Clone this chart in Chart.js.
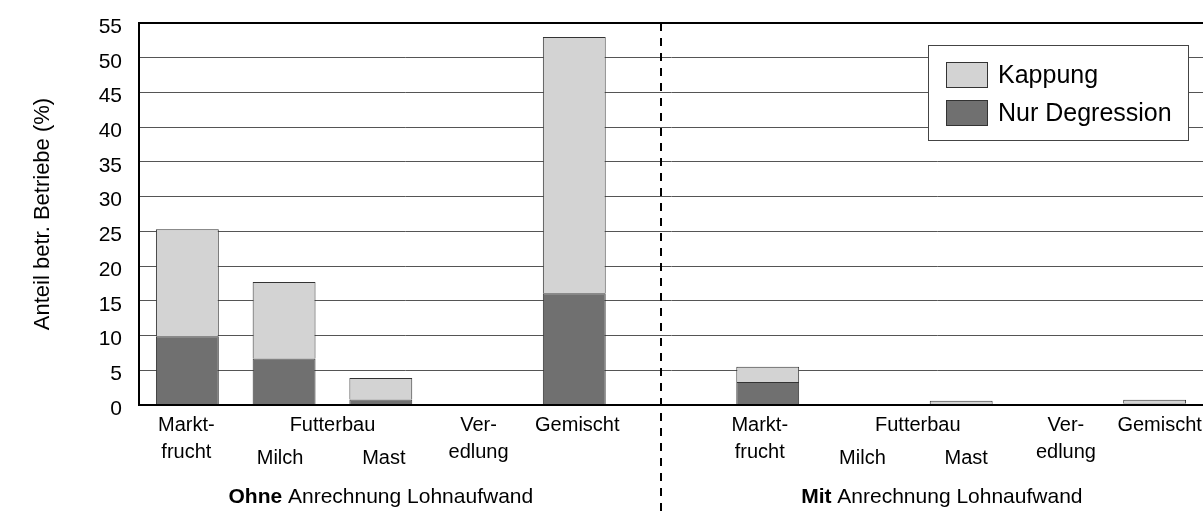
<!DOCTYPE html>
<html><head><meta charset="utf-8">
<script src="https://cdn.jsdelivr.net/npm/chart.js@4"></script>
<style>html,body{margin:0;padding:0;background:#fff;overflow:hidden}#wrap{width:1203px;height:514px;position:relative}</style>
</head><body><div id="wrap"><canvas id="c"></canvas></div>
<script>
// ---- data ----
const categories = ['Marktfrucht','Milch','Mast','Veredlung','Gemischt','','Marktfrucht','Milch','Mast','Veredlung','Gemischt'];
const nurDegression = [9.9, 6.7, 0.8, 0, 16.1, null, 3.3, 0, 0.1, 0, 0.2];
const kappung       = [15.4, 11.0, 3.1, 0, 36.9, null, 2.2, 0, 0.5, 0, 0.55];
const seriesNames = ['Nur Degression', 'Kappung'];
const labelsLine1 = ['Markt-', null, null, 'Ver-', 'Gemischt', null, 'Markt-', null, null, 'Ver-', 'Gemischt'];
const labelsLine2 = ['frucht', 'Milch', 'Mast', 'edlung', null, null, 'frucht', 'Milch', 'Mast', 'edlung', null];
const groupLabels = [{text:'Futterbau', from:1, to:2}, {text:'Futterbau', from:7, to:8}];
const sectionTitles = [{bold:'Ohne', text:' Anrechnung Lohnaufwand'}, {bold:'Mit', text:' Anrechnung Lohnaufwand'}];
const yTitle = 'Anteil betr. Betriebe (%)';
const yMin = 0, yMax = 55, yStep = 5;

// ---- layout / styles ----
const sectionTitleCenters = [2, 7.8];   // in category units
const dividerAt = 4.9;                  // in category units
const labelNudge = [-1, -4, 3, 1, 3, 0, -8, -2, 5, 8, 5]; // small text nudges (px)
const groupNudge = [0, 5];
const FONT = 'Arial, "Liberation Sans", Helvetica, sans-serif';
const COL_DARK = '#707070', COL_LIGHT = '#d3d3d3', COL_EDGE = '#333333';

const xLabelsPlugin = {
  id: 'xLabels',
  afterDraw(chart) {
    const ctx = chart.ctx, x = chart.scales.x, area = chart.chartArea;
    ctx.save();
    ctx.fillStyle = '#000';
    ctx.textAlign = 'center';
    ctx.textBaseline = 'middle';
    ctx.font = '20px ' + FONT;
    labelsLine1.forEach((t, i) => { if (t) ctx.fillText(t, x.getPixelForValue(i) + labelNudge[i], 425); });
    labelsLine2.forEach((t, i) => {
      if (!t) return;
      const sub = (t === 'Milch' || t === 'Mast');
      ctx.fillText(t, x.getPixelForValue(i) + labelNudge[i], sub ? 458 : 452);
    });
    groupLabels.forEach((g, k) => {
      const cx = (x.getPixelForValue(g.from) + x.getPixelForValue(g.to)) / 2 + groupNudge[k];
      ctx.fillText(g.text, cx, 425);
    });
    // section titles
    sectionTitles.forEach((s, k) => {
      const cx = x.getPixelForValue(sectionTitleCenters[k]);
      ctx.font = 'bold 21px ' + FONT;
      const wb = ctx.measureText(s.bold).width;
      ctx.font = '21px ' + FONT;
      const wt = ctx.measureText(s.text).width;
      const start = cx - (wb + wt) / 2;
      ctx.textAlign = 'left';
      ctx.font = 'bold 21px ' + FONT;
      ctx.fillText(s.bold, start, 497);
      ctx.font = '21px ' + FONT;
      ctx.fillText(s.text, start + wb, 497);
      ctx.textAlign = 'center';
    });
    // top border
    ctx.strokeStyle = '#000';
    ctx.lineWidth = 2;
    ctx.beginPath();
    ctx.moveTo(area.left - 1, area.top);
    ctx.lineTo(area.right, area.top);
    ctx.stroke();
    // dashed divider
    const dx = Math.round(x.getPixelForValue(dividerAt));
    ctx.setLineDash([8, 7]);
    ctx.beginPath();
    ctx.moveTo(dx, area.top);
    ctx.lineTo(dx, 512);
    ctx.stroke();
    ctx.setLineDash([]);
    // legend
    const bx = 928.5, by = 45.5, bw = 260, bh = 95;
    ctx.fillStyle = '#fff';
    ctx.fillRect(bx, by, bw, bh);
    ctx.strokeStyle = '#444';
    ctx.lineWidth = 1;
    ctx.strokeRect(bx, by, bw, bh);
    const items = chart.data.datasets.slice().reverse();
    items.forEach((ds, k) => {
      const sy = 62.5 + k * 38;
      ctx.fillStyle = ds.backgroundColor;
      ctx.fillRect(946.5, sy, 41, 25);
      ctx.strokeStyle = COL_EDGE;
      ctx.strokeRect(946.5, sy, 41, 25);
      ctx.fillStyle = '#000';
      ctx.font = '25px ' + FONT;
      ctx.textAlign = 'left';
      ctx.textBaseline = 'middle';
      ctx.fillText(ds.label, 998, sy + 14);
    });
    ctx.restore();
  }
};

new Chart(document.getElementById('c'), {
  type: 'bar',
  data: {
    labels: categories,
    datasets: [
      { label: seriesNames[0], data: nurDegression, backgroundColor: COL_DARK, borderColor: COL_EDGE, borderWidth: 1, borderSkipped: 'start' },
      { label: seriesNames[1], data: kappung, backgroundColor: COL_LIGHT, borderColor: COL_EDGE, borderWidth: 1, borderSkipped: 'start' }
    ]
  },
  options: {
    responsive: true,
    maintainAspectRatio: false,
    animation: false,
    layout: { padding: { top: 23, bottom: 109, left: 0, right: 0 } },
    datasets: { bar: { barPercentage: 0.65, categoryPercentage: 1 } },
    plugins: { legend: { display: false }, tooltip: { enabled: false } },
    scales: {
      x: {
        stacked: true,
        grid: { display: false, drawTicks: false },
        ticks: { display: false },
        border: { display: true, color: '#000', width: 2, z: 1 },
        afterFit: s => { s.height = 0; s.paddingLeft = 0; s.paddingRight = 0; }
      },
      y: {
        stacked: true,
        min: yMin, max: yMax,
        grid: { color: '#555', lineWidth: 1, drawTicks: false },
        border: { display: true, color: '#000', width: 2, z: 1 },
        ticks: { stepSize: yStep, padding: 17, labelOffset: 4, color: '#000', font: { family: FONT, size: 21 } },
        title: { display: true, text: yTitle, color: '#000', font: { family: FONT, size: 22 }, padding: { top: 30, bottom: 0 } },
        afterFit: s => { s.width = 139; s.paddingTop = 0; s.paddingBottom = 0; }
      }
    }
  },
  plugins: [xLabelsPlugin]
});
</script>
</body></html>
